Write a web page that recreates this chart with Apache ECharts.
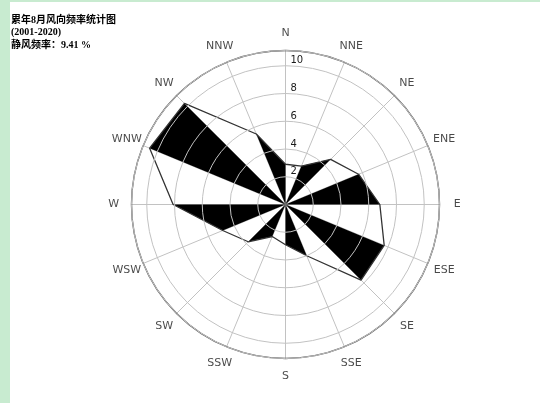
<!DOCTYPE html>
<html><head><meta charset="utf-8">
<script src="https://cdn.jsdelivr.net/npm/echarts@6/dist/echarts.min.js"></script>
<style>
html,body{margin:0;padding:0;background:#fff;}
#wrap{position:absolute;left:0;top:0;width:540px;height:403px;background:#c8ebd0;}
#chart{position:absolute;left:10px;top:2px;width:530px;height:401px;background:#fff;}
</style></head><body>
<div id="wrap"><div id="chart"></div></div>
<script>
const directions = ['N','NNE','NE','ENE','E','ESE','SE','SSE','S','SSW','SW','WSW','W','WNW','NW','NNW'];
const frequencies = [2.9, 3.0, 4.6, 5.7, 6.8, 7.7, 7.7, 4.0, 2.9, 2.5, 3.8, 4.9, 8.1, 10.6, 10.3, 5.5];
const radialTicks = [2, 4, 6, 8, 10];
const titleLines = ['累年8月风向频率统计图', '(2001-2020)', '静风频率：9.41 %'];

const rMax = 11.1;
const step = 360 / directions.length;
const lineData = directions.map((d, i) => [frequencies[i], i * step]);
lineData.push([frequencies[0], 360]);
const wedgeData = [];
for (let i = 1; i < directions.length; i += 2) {
  const j = (i + 1) % directions.length;
  wedgeData.push([frequencies[i], i * step, frequencies[j], (i + 1) * step]);
}
// direction names centred just outside the outer circle (matplotlib style)
const labelData = directions.map((d, i) => ({ value: [rMax * 1.115, i * step], name: d }));

const chart = echarts.init(document.getElementById('chart'));
chart.setOption({
  animation: false,
  title: titleLines.map((t, i) => ({
    text: t, left: 1, top: 13 + i * 12.5, padding: 0,
    textStyle: { fontSize: 10, fontWeight: 'bold', color: '#000', fontFamily: '"Liberation Serif", "Noto Sans CJK SC", serif' }
  })),
  polar: { center: [275.5, 202.5], radius: 154 },
  angleAxis: {
    type: 'value', min: 0, max: 360, interval: step, startAngle: 90, clockwise: true,
    axisLine: { show: true, lineStyle: { color: '#555555', width: 1.4 } },
    axisTick: { show: false },
    axisLabel: { show: false },
    splitLine: { show: true, lineStyle: { color: '#c2c2c2', width: 1 } }
  },
  radiusAxis: {
    type: 'value', min: 0, max: rMax, interval: 2,
    axisLine: { show: false }, axisTick: { show: false },
    axisLabel: {
      margin: -5, align: 'left', verticalAlign: 'bottom', fontSize: 10, color: '#1a1a1a',
      fontFamily: '"DejaVu Sans", sans-serif',
      formatter: v => radialTicks.indexOf(Math.round(v * 1000) / 1000) >= 0 ? String(v) : ''
    },
    splitLine: { show: true, lineStyle: { color: '#c2c2c2', width: 1 } },
    z: 10
  },
  series: [
    {
      type: 'custom', coordinateSystem: 'polar', data: wedgeData,
      encode: { radius: [0, 2], angle: [1, 3] },
      renderItem: function (params, api) {
        const a = api.coord([api.value(0), api.value(1)]);
        const b = api.coord([api.value(2), api.value(3)]);
        const c = api.coord([0, api.value(1)]);
        return { type: 'polygon', shape: { points: [c, a, b] }, style: { fill: '#000' } };
      },
      z: 3
    },
    {
      type: 'line', coordinateSystem: 'polar', data: lineData, symbol: 'none',
      lineStyle: { color: '#333', width: 1.3 }, z: 4
    },
    {
      type: 'scatter', coordinateSystem: 'polar', data: labelData, symbol: 'circle', symbolSize: 1,
      itemStyle: { color: 'rgba(0,0,0,0)' }, silent: true, clip: false,
      label: {
        show: true, position: 'inside', formatter: p => p.name,
        fontSize: 11, color: '#1a1a1a', fontFamily: '"DejaVu Sans", sans-serif'
      },
      labelLayout: { hideOverlap: false },
      z: 5
    }
  ]
});
</script>
</body></html>
